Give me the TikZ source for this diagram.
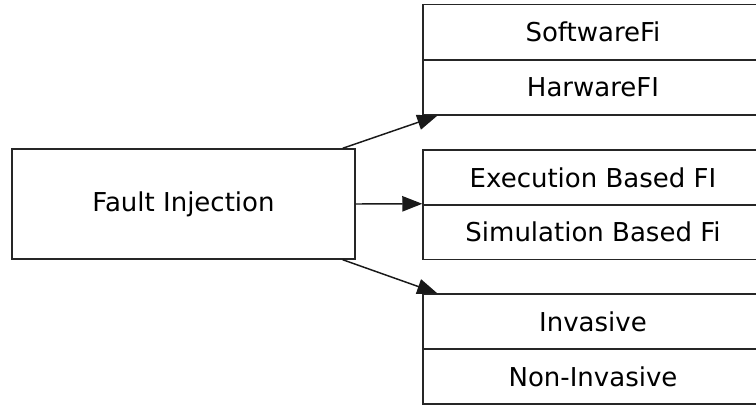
\documentclass[tikz,border=0pt]{standalone}
\usepackage{fontspec}
\setmainfont{DejaVu Sans}
\usetikzlibrary{arrows.meta}
\begin{document}
\begin{tikzpicture}[x=0.75pt,y=-0.75pt,
  every node/.style={font=\fontsize{19.5}{22}\selectfont},
  box/.style={draw=black!85,line width=1.1pt,rectangle,inner sep=0pt},
  leftbox/.style={box,minimum width=257.25pt,minimum height=82.5pt},
  catbox/.style={box,minimum width=255pt,minimum height=41.25pt},
  link/.style={draw=black!90,line width=1.1pt,-{Triangle[length=15pt,width=11.5pt]}}]
\useasboundingbox (0,0) rectangle (756,404);
\clip (0,0) rectangle (756,404);
\fill[white] (0,0) rectangle (756,404);

% source box
\node[leftbox] (fault) at (183.5,204) {Fault Injection};

% category boxes
\node[catbox] (sw)   at (593,32)    {SoftwareFi};
\node[catbox] (hw)   at (593,87.5)  {HarwareFI};
\node[catbox] (exec) at (593,177.5) {Execution Based FI};
\node[catbox] (sim)  at (593,232)   {Simulation Based Fi};
\node[catbox] (inv)  at (593,321.5) {Invasive};
\node[catbox] (ninv) at (593,376.5) {Non-Invasive};

% connectors
\draw[link] ([xshift=-9.75pt]fault.north east) -- ([xshift=11.25pt]hw.south west);
\draw[link] (fault.east) -- (sim.north west);
\draw[link] ([xshift=-9.75pt]fault.south east) -- ([xshift=11.25pt]inv.north west);
\end{tikzpicture}
\end{document}
